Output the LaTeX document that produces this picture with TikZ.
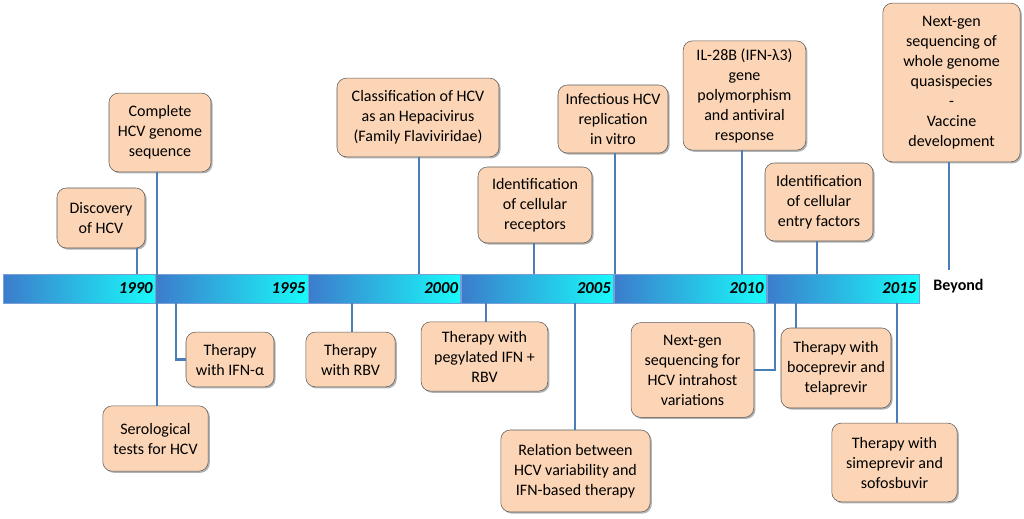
\documentclass[tikz,border=0pt]{standalone}
\usepackage{fontspec}
\setmainfont{Carlito}
\usetikzlibrary{shadows}
\definecolor{peach}{RGB}{251,213,181}
\definecolor{linkblue}{RGB}{74,126,187}
\definecolor{barblue}{RGB}{60,124,204}
\definecolor{barcyan}{RGB}{24,250,250}
\definecolor{barrim}{RGB}{120,160,215}

\begin{document}
\begin{tikzpicture}[x=0.75pt, y=-0.75pt,
	every node/.style={font=\fontsize{12}{15}\selectfont},
	event/.style={draw=black!65, fill=peach, rounded corners=7pt, align=center, inner sep=1pt,
		drop shadow={shadow xshift=1.2pt, shadow yshift=-1.2pt, opacity=0.3, fill=black}},
	yearseg/.style={draw=barrim, line width=0.5pt, left color=barblue, right color=barcyan,
		text width=110pt, align=right, inner xsep=2pt, inner ysep=0pt, minimum height=21.75pt,
		font=\fontsize{12.5}{15}\selectfont\bfseries\itshape,
		drop shadow={shadow xshift=1pt, shadow yshift=-1pt, opacity=0.25, fill=black}},
	link/.style={linkblue, line width=2.2pt}]
	\useasboundingbox (0,0) rectangle (1024,518);
	\foreach \yr [count=\i] in {1990,1995,2000,2005,2010,2015} {
		\node[yearseg] (s\i) at ({3+152.7*(\i-0.5)},288.5) {\yr};
	}
	\node[font=\fontsize{12}{15}\selectfont\bfseries] (beyond) at (958.5,286) {Beyond};
	\coordinate (beyondtop) at (949,270);

	\node[event, minimum width=66pt, minimum height=45pt] (disc) at (101,218) {Discovery\\of HCV};
	\node[event, minimum width=76.5pt, minimum height=59pt] (genome) at (160,132.5) {Complete\\HCV genome\\sequence};
	\node[event, minimum width=79pt, minimum height=49pt] (sero) at (155.5,438.5) {Serological\\tests for HCV};
	\node[event, minimum width=66pt, minimum height=41pt] (ifna) at (230,359.5) {Therapy\\with IFN-α};
	\node[event, minimum width=67pt, minimum height=41pt] (rbv) at (350.5,359.5) {Therapy\\with RBV};
	\node[event, minimum width=121.5pt, minimum height=59pt] (classif) at (418,117.5) {Classification of HCV\\as an Hepacivirus\\(Family Flaviviridae)};
	\node[event, minimum width=85.5pt, minimum height=57pt] (recept) at (535,205) {Identification\\of cellular\\receptors};
	\node[event, minimum width=82.5pt, minimum height=51pt] (infect) at (613,119) {Infectious HCV\\replication\\in vitro};
	\node[event, minimum width=92pt, minimum height=82pt] (il28) at (744.5,95.5) {IL-28B (IFN-λ3)\\gene\\polymorphism\\and antiviral\\response};
	\node[event, minimum width=81pt, minimum height=58.5pt] (entry) at (819,202) {Identification\\of cellular\\entry factors};
	\node[event, minimum width=103pt, minimum height=119pt] (nextgen) at (951.5,82.5) {Next-gen\\sequencing of\\whole genome\\quasispecies\\-\\Vaccine\\development};
	\node[event, minimum width=95pt, minimum height=52pt] (peg) at (484.5,356.5) {Therapy with\\pegylated IFN +\\RBV};
	\node[event, minimum width=112pt, minimum height=61.5pt] (relation) at (575.5,471) {Relation between\\HCV variability and\\IFN-based therapy};
	\node[event, minimum width=92pt, minimum height=71pt] (ngs) at (692.5,370) {Next-gen\\sequencing for\\HCV intrahost\\variations};
	\node[event, minimum width=82.5pt, minimum height=60pt] (boce) at (836,368) {Therapy with\\boceprevir and\\telaprevir};
	\node[event, minimum width=94pt, minimum height=59pt] (sime) at (894.5,462.5) {Therapy with\\simeprevir and\\sofosbuvir};

	\draw[link] (disc.south -| 137,0) -- (s1.north -| 137,0);
	\draw[link] (genome.south -| 157,0) -- (sero.north -| 157,0);
	\draw[link] (s2.south -| 176,0) |- (ifna.west);
	\draw[link] (s3.south -| 352,0) -- (rbv.north -| 352,0);
	\draw[link] (classif.south -| 419,0) -- (s3.north -| 419,0);
	\draw[link] (recept.south -| 534,0) -- (s4.north -| 534,0);
	\draw[link] (infect.south -| 615,0) -- (s5.north -| 615,0);
	\draw[link] (il28.south -| 742,0) -- (s5.north -| 742,0);
	\draw[link] (entry.south -| 817,0) -- (s6.north -| 817,0);
	\draw[link] (nextgen.south -| beyondtop) -- (beyondtop);
	\draw[link] (s4.south -| 486,0) -- (peg.north -| 486,0);
	\draw[link] (s4.south -| 575,0) -- (relation.north -| 575,0);
	\draw[link] (s6.south -| 775,0) |- (ngs.east);
	\draw[link] (s6.south -| 796,0) -- (boce.north -| 796,0);
	\draw[link] (s6.south -| 897,0) -- (sime.north -| 897,0);
\end{tikzpicture}
\end{document}
